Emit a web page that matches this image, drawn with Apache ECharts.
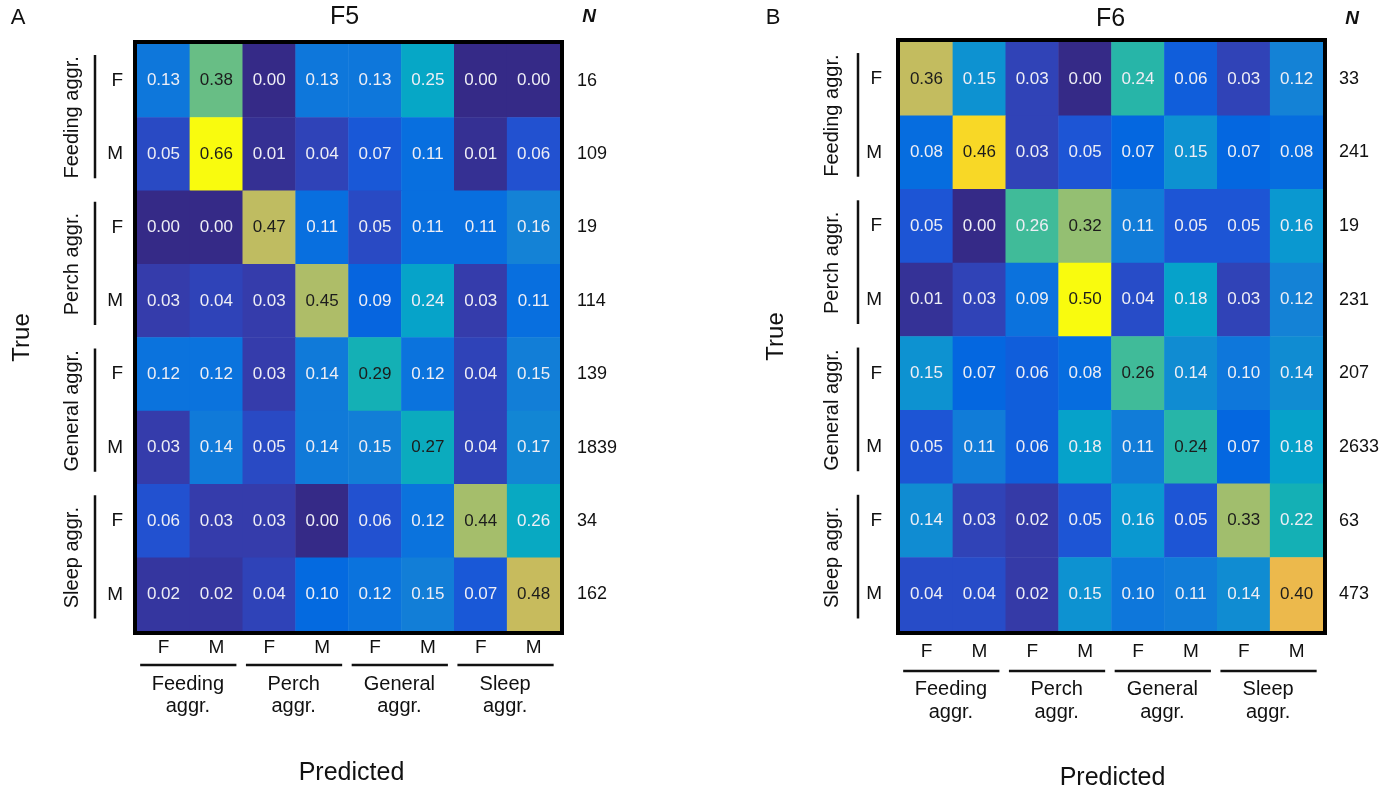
<!DOCTYPE html>
<html>
<head>
<meta charset="utf-8">
<script src="https://cdn.jsdelivr.net/npm/echarts@6/dist/echarts.min.js"></script>
<style>
html,body{margin:0;padding:0;background:#fff;}
#main{width:1395px;height:793px;}
</style>
</head>
<body>
<div id="main"></div>
<script>
// ---------- data ----------
const predLabels = ['F','M','F','M','F','M','F','M'];
const trueLabels = ['F','M','F','M','F','M','F','M'];
const groupNames = ['Feeding aggr.','Perch aggr.','General aggr.','Sleep aggr.'];
const groupNamesTwoLine = [['Feeding','aggr.'],['Perch','aggr.'],['General','aggr.'],['Sleep','aggr.']];
const panelTitles = ['F5','F6'];
const panelLetters = ['A','B'];

const f5 = [
  [0.13,0.38,0.00,0.13,0.13,0.25,0.00,0.00],
  [0.05,0.66,0.01,0.04,0.07,0.11,0.01,0.06],
  [0.00,0.00,0.47,0.11,0.05,0.11,0.11,0.16],
  [0.03,0.04,0.03,0.45,0.09,0.24,0.03,0.11],
  [0.12,0.12,0.03,0.14,0.29,0.12,0.04,0.15],
  [0.03,0.14,0.05,0.14,0.15,0.27,0.04,0.17],
  [0.06,0.03,0.03,0.00,0.06,0.12,0.44,0.26],
  [0.02,0.02,0.04,0.10,0.12,0.15,0.07,0.48]
];
const n5 = [16,109,19,114,139,1839,34,162];

const f6 = [
  [0.36,0.15,0.03,0.00,0.24,0.06,0.03,0.12],
  [0.08,0.46,0.03,0.05,0.07,0.15,0.07,0.08],
  [0.05,0.00,0.26,0.32,0.11,0.05,0.05,0.16],
  [0.01,0.03,0.09,0.50,0.04,0.18,0.03,0.12],
  [0.15,0.07,0.06,0.08,0.26,0.14,0.10,0.14],
  [0.05,0.11,0.06,0.18,0.11,0.24,0.07,0.18],
  [0.14,0.03,0.02,0.05,0.16,0.05,0.33,0.22],
  [0.04,0.04,0.02,0.15,0.10,0.11,0.14,0.40]
];
const n6 = [33,241,19,231,207,2633,63,473];

// cells whose value label is drawn dark [row, col]
const dark5 = [[0,1],[1,1],[2,2],[3,3],[4,4],[5,5],[6,6],[7,7]];
const dark6 = [[0,0],[1,1],[2,3],[3,3],[4,4],[5,5],[6,6],[7,7]];

// parula colormap
const PARULA = ['#352a87','#353dad','#2053d4','#0268e1','#0d75dc','#1481d6','#108ed2','#079ccf',
  '#06a7c6','#0faeb9','#25b5a9','#42bb98','#65be86','#87bf77','#a5be6b','#c0bc60',
  '#d9ba56','#f1b94a','#ffc337','#fad32a','#f5e41d','#f9fb0e'];

// ---------- layout ----------
const FONT = "'Liberation Sans', Arial, sans-serif";
const grids = [
  {left:137, top:44, width:423, height:587},
  {left:900, top:42, width:423, height:589}
];
const xLabelMargin = [7, 11];
const yLabelMargin = [14, 18];
const nLabelMargin = [17, 16];

function buildData(mat, dark){
  const isDark = (r,c) => dark.some(d => d[0]===r && d[1]===c);
  const out = [];
  mat.forEach((row, r) => row.forEach((v, c) => {
    out.push({value:[c, r, v], label:{color: isDark(r,c) ? '#1c1c1c' : '#eeeef5'}});
  }));
  return out;
}
const maxOf = m => Math.max(...m.flat());

const chart = echarts.init(document.getElementById('main'), null, {renderer:'canvas'});

const xAxes = [0,1].map(i => ({
  type:'category', gridIndex:i, data:predLabels, position:'bottom',
  axisLine:{show:false}, axisTick:{show:false}, splitLine:{show:false},
  axisLabel:{interval:0, fontSize:19, color:'#111', fontFamily:FONT, margin:xLabelMargin[i]}
}));
const yAxes = [];
[0,1].forEach(i => {
  yAxes.push({
    type:'category', gridIndex:i, data:trueLabels, inverse:true, position:'left',
    axisLine:{show:false}, axisTick:{show:false}, splitLine:{show:false},
    axisLabel:{interval:0, fontSize:19, color:'#111', fontFamily:FONT, margin:yLabelMargin[i]}
  });
  yAxes.push({
    type:'category', gridIndex:i, data:(i===0?n5:n6).map(String), inverse:true, position:'right',
    axisLine:{show:false}, axisTick:{show:false}, splitLine:{show:false},
    axisLabel:{interval:0, fontSize:18, color:'#111', fontFamily:FONT, margin:nLabelMargin[i], align:'left'}
  });
});

const mats = [f5, f6];
const darks = [dark5, dark6];

chart.setOption({
  animation:false,
  backgroundColor:'#fff',
  grid: grids.map(g => Object.assign({containLabel:false}, g)),
  xAxis: xAxes,
  yAxis: yAxes,
  visualMap: [0,1].map(i => ({
    show:false, type:'continuous', seriesIndex:i, min:0, max:maxOf(mats[i]),
    inRange:{color:PARULA}
  })),
  series: [0,1].map(i => ({
    type:'heatmap', xAxisIndex:i, yAxisIndex:i*2,
    data: buildData(mats[i], darks[i]),
    itemStyle:{borderWidth:0},
    emphasis:{disabled:true},
    label:{show:true, fontSize:17, fontFamily:FONT,
      formatter: p => p.value[2].toFixed(2)}
  }))
});

// ---------- annotations from the axes ----------
const g = [];
const txt = (x, y, text, size, opts={}) => Object.assign({
  type:'text', x, y, z:50,
  style:Object.assign({text, fontSize:size, fontFamily:FONT, fill:'#111', align:'center', verticalAlign:'middle'}, opts.style||{})
}, opts.extra||{});

const bottomBarY = [665, 671];
const groupLine1Y = [684, 689];
const groupLine2Y = [706, 712];
const leftBarX = [95, 858];
const leftGroupLabelX = [72, 832];
const trueX = [22, 776];
const predY = [773, 778];
const titleY = [17, 19];

[0,1].forEach(i => {
  const gr = grids[i];
  const cw = gr.width / predLabels.length;
  const ch = gr.height / trueLabels.length;
  const xPix = k => chart.convertToPixel({xAxisIndex:i}, k);
  const yPix = k => chart.convertToPixel({yAxisIndex:i*2}, k);

  // border
  g.push({type:'rect', z:100, shape:{x:gr.left-2, y:gr.top-2, width:gr.width+4, height:gr.height+4},
    style:{fill:'none', stroke:'#000', lineWidth:4}});

  groupNames.forEach((name, k) => {
    // bottom group bars and labels
    const x0 = xPix(2*k) - cw*0.44, x1 = xPix(2*k+1) + cw*0.38;
    g.push({type:'line', z:50, shape:{x1:x0, y1:bottomBarY[i], x2:x1, y2:bottomBarY[i]},
      style:{stroke:'#111', lineWidth:2.5}});
    const cx = (xPix(2*k) + xPix(2*k+1)) / 2;
    g.push(txt(cx - 2, groupLine1Y[i], groupNamesTwoLine[k][0], 20));
    g.push(txt(cx - 2, groupLine2Y[i], groupNamesTwoLine[k][1], 20));

    // left group bars and labels
    const y0 = yPix(2*k) - ch*0.35, y1 = yPix(2*k+1) + ch*0.33;
    g.push({type:'line', z:50, shape:{x1:leftBarX[i], y1:y0, x2:leftBarX[i], y2:y1},
      style:{stroke:'#111', lineWidth:2.5}});
    const cy = (yPix(2*k) + yPix(2*k+1)) / 2;
    g.push(txt(leftGroupLabelX[i], cy, name, 20, {extra:{rotation:Math.PI/2}}));
  });

  const gcx = gr.left + gr.width/2;
  const gcy = gr.top + gr.height/2;
  g.push(txt(trueX[i], gcy, 'True', 24, {extra:{rotation:Math.PI/2}}));
  g.push(txt(gcx + (i===0?3:1), predY[i], 'Predicted', 25));
  g.push(txt(gcx - (i===0?4:1), titleY[i], panelTitles[i], 25));
  g.push(txt(gr.left + gr.width + 29, titleY[i], 'N', 19, {style:{fontWeight:'bold', fontStyle:'italic'}}));
  g.push(txt(i===0 ? 18 : 773, 18, panelLetters[i], 22));
});

chart.setOption({graphic: g});
</script>
</body>
</html>
